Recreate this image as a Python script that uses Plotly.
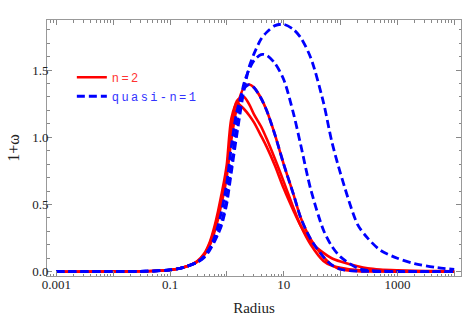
import plotly.graph_objects as go

radius = [0.001, 0.01, 0.03, 0.05, 0.1, 0.15, 0.2, 0.3, 0.4, 0.5, 0.6, 0.7, 0.8, 0.9, 1.0,
          1.2, 1.5, 2, 2.5, 3, 4, 5, 7, 10, 15, 20, 30, 50, 70, 100, 200, 300, 500,
          1000, 2000, 5000, 10000]

# n=2 (red, solid)
n2_a = [0.0, 0.001, 0.003, 0.005, 0.013, 0.025, 0.04, 0.072, 0.125, 0.195, 0.29, 0.39, 0.50, 0.60, 0.71,
        0.98, 1.22, 1.37, 1.392, 1.37, 1.29, 1.20, 1.02, 0.80, 0.57, 0.40, 0.24, 0.11, 0.05, 0.018, 0.004, 0.002, 0.001,
        0.0, 0.0, 0.0, 0.0]
n2_b = [0.0, 0.001, 0.003, 0.005, 0.013, 0.025, 0.04, 0.075, 0.13, 0.21, 0.31, 0.42, 0.53, 0.64, 0.76,
        1.06, 1.27, 1.30, 1.24, 1.17, 1.08, 0.99, 0.84, 0.67, 0.47, 0.34, 0.20, 0.08, 0.045, 0.03, 0.012, 0.008, 0.005,
        0.003, 0.002, 0.001, 0.001]
n2_c = [0.0, 0.001, 0.003, 0.005, 0.013, 0.025, 0.04, 0.078, 0.135, 0.22, 0.33, 0.45, 0.57, 0.68, 0.80,
        1.14, 1.255, 1.21, 1.16, 1.11, 1.01, 0.93, 0.79, 0.62, 0.45, 0.34, 0.22, 0.14, 0.10, 0.075, 0.04, 0.025, 0.016,
        0.01, 0.006, 0.004, 0.003]

# quasi-n=1 (blue, dashed)
q1_a = [0.0, 0.001, 0.003, 0.005, 0.013, 0.025, 0.04, 0.07, 0.115, 0.175, 0.25, 0.34, 0.44, 0.55, 0.66,
        0.93, 1.19, 1.36, 1.392, 1.37, 1.29, 1.20, 1.02, 0.80, 0.57, 0.40, 0.24, 0.11, 0.05, 0.018, 0.004, 0.002, 0.001,
        0.0, 0.0, 0.0, 0.0]
q1_b = [0.0, 0.001, 0.003, 0.005, 0.013, 0.025, 0.04, 0.07, 0.11, 0.17, 0.23, 0.29, 0.36, 0.45, 0.56,
        0.79, 1.10, 1.40, 1.51, 1.57, 1.615, 1.61, 1.55, 1.43, 1.17, 0.94, 0.61, 0.31, 0.19, 0.11, 0.026, 0.01, 0.004,
        0.002, 0.001, 0.0, 0.0]
q1_c = [0.0, 0.001, 0.003, 0.005, 0.013, 0.025, 0.04, 0.07, 0.105, 0.16, 0.22, 0.28, 0.34, 0.42, 0.51,
        0.74, 1.02, 1.35, 1.53, 1.62, 1.73, 1.78, 1.83, 1.84, 1.80, 1.74, 1.59, 1.26, 0.97, 0.73, 0.35, 0.25, 0.16,
        0.10, 0.06, 0.03, 0.018]

x_tick_vals = [0.001, 0.01, 0.1, 1, 10, 100, 1000, 10000]
x_tick_text = ["0.001", "", "0.1", "", "10", "", "1000", ""]
y_tick_vals = [0.0, 0.5, 1.0, 1.5]
y_tick_text = ["0.0", "0.5", "1.0", "1.5"]

RED = "#ff0000"
BLUE = "#0000ff"

fig = go.Figure()
for i, ys in enumerate([n2_a, n2_b, n2_c]):
    fig.add_trace(go.Scatter(x=radius, y=ys, mode="lines",
                             line=dict(color=RED, width=2.6, shape="spline", smoothing=0.8),
                             name='<span style="color:#ff3333;letter-spacing:2.4px">n=2</span>',
                             legendgroup="n2", showlegend=(i == 0)))
for i, ys in enumerate([q1_a, q1_b, q1_c]):
    fig.add_trace(go.Scatter(x=radius, y=ys, mode="lines",
                             line=dict(color=BLUE, width=2.8, dash="8px,4px", shape="spline", smoothing=0.8),
                             name='<span style="color:#3333ff;letter-spacing:2.4px">quasi-n=1</span>',
                             legendgroup="q1", showlegend=(i == 0)))

minor_x = [m * 10 ** e for e in range(-4, 5) for m in range(2, 10)]
minor_y = [v / 10 for v in range(-1, 19) if v % 5 != 0]

axis_common = dict(showline=True, linecolor="#999999", linewidth=1, mirror="allticks",
                   ticks="inside", tickcolor="#888888", showgrid=False, zeroline=False,
                   automargin=False,
                   tickfont=dict(family="Liberation Serif", size=13, color="#222222"))

fig.update_xaxes(type="log", range=[-3.1636, 4.119], tickmode="array",
                 tickvals=x_tick_vals, ticktext=x_tick_text, ticklen=5, ticklabelstandoff=-4,
                 minor=dict(tickmode="array", tickvals=minor_x, ticks="inside", ticklen=2.5, tickcolor="#888888"),
                 title=dict(text="Radius", font=dict(family="Liberation Serif", size=15, color="#222222"), standoff=11),
                 **axis_common)
fig.update_yaxes(range=[-0.032, 1.872], tickmode="array",
                 tickvals=y_tick_vals, ticktext=y_tick_text, ticklen=5, ticklabelstandoff=-5,
                 minor=dict(tickmode="array", tickvals=minor_y, ticks="inside", ticklen=2.5, tickcolor="#888888"),
                 title=dict(text="1+ω", font=dict(family="Liberation Serif", size=16, color="#222222"), standoff=8),
                 **axis_common)

fig.update_layout(width=463, height=323, margin=dict(l=47, r=2, t=20, b=47),
                  paper_bgcolor="white", plot_bgcolor="white",
                  legend=dict(x=0.060, y=0.833, xanchor="left", yanchor="top", bgcolor="rgba(0,0,0,0)",
                              font=dict(family="Liberation Mono", size=12), tracegroupgap=0,
                              itemwidth=30))

fig.write_html("out.html", config={"displayModeBar": False},
               post_script="document.body.style.margin='0';")
